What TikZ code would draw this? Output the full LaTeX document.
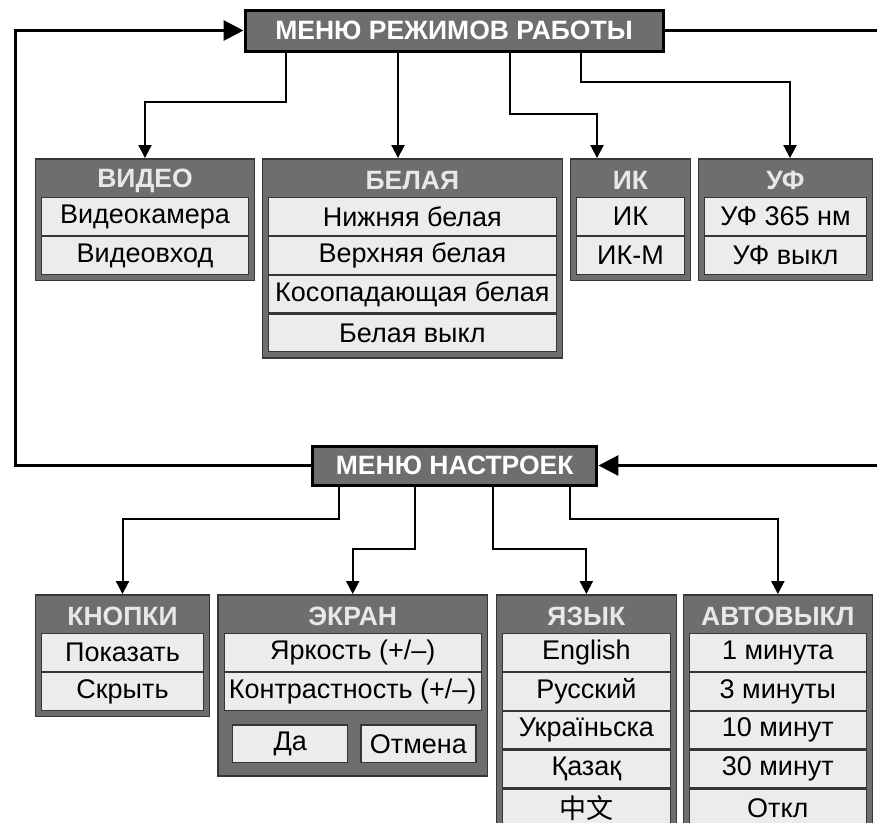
\documentclass[tikz,border=0pt]{standalone}
\usepackage{fontspec}
\setmainfont{Liberation Sans}
\newfontfamily\cjkfont{Noto Sans CJK SC}
\usetikzlibrary{arrows.meta,positioning,calc,backgrounds,fit}
\definecolor{panelgray}{HTML}{6E6E6E}
\definecolor{rowgray}{HTML}{ECECEC}
\definecolor{headtext}{HTML}{E8E8E8}
\definecolor{edgegray}{HTML}{363636}

\begin{document}
\begin{tikzpicture}[
  x=1pt, y=-1pt,
  every node/.style={font=\fontsize{27}{32}\selectfont},
  menubox/.style={rectangle, draw=black, line width=3pt, fill=panelgray, text=white,
    font=\fontsize{26.5}{30}\selectfont\bfseries, inner sep=0pt},
  panel/.style={rectangle, draw=edgegray, line width=1.5pt, fill=panelgray, inner sep=5.5pt},
  panelhead/.style={rectangle, text=headtext, font=\fontsize{26.5}{30}\selectfont\bfseries,
    minimum height=32.5pt, inner sep=0pt},
  entry/.style={rectangle, draw=edgegray, line width=1.2pt, fill=rowgray,
    minimum height=37.6pt, inner sep=0pt},
  link/.style={-{Triangle[length=13pt, width=13pt]}, line width=2pt},
  feed/.style={-{Triangle[length=20pt, width=20pt]}, line width=3pt},
]
\useasboundingbox (0,0) rectangle (877,822);
\clip (0,0) rectangle (877,822);

% Main menus
\node[menubox, minimum width=418pt, minimum height=41pt] (mode) at (454,30.5) {МЕНЮ РЕЖИМОВ РАБОТЫ};
\node[menubox, minimum width=284.5pt, minimum height=39pt] (setm) at (454.7,465.5) {МЕНЮ НАСТРОЕК};

% Mode panels
\begin{scope}[nodes={minimum width=207pt}]
\node[panelhead] (vidh) at (145,180.75) {ВИДЕО};
\node[entry, below=0pt of vidh] (vid1) {Видеокамера};
\node[entry, below=0pt of vid1] (vid2) {Видеовход};
\end{scope}
\begin{scope}[nodes={minimum width=287.7pt}]
\node[panelhead] (whth) at (412.35,180.75) {БЕЛАЯ};
\node[entry, below=0pt of whth] (wht1) {Нижняя белая};
\node[entry, below=0pt of wht1] (wht2) {Верхняя белая};
\node[entry, below=0pt of wht2] (wht3) {Косопадающая белая};
\node[entry, below=0pt of wht3] (wht4) {Белая выкл};
\end{scope}
\begin{scope}[nodes={minimum width=108pt}]
\node[panelhead] (irh) at (630.5,180.75) {ИК};
\node[entry, below=0pt of irh] (ir1) {ИК};
\node[entry, below=0pt of ir1] (ir2) {ИК-М};
\end{scope}
\begin{scope}[nodes={minimum width=162pt}]
\node[panelhead] (uvh) at (785.5,180.75) {УФ};
\node[entry, below=0pt of uvh] (uv1) {УФ 365 нм};
\node[entry, below=0pt of uv1] (uv2) {УФ выкл};
\end{scope}

% Settings panels
\begin{scope}[nodes={minimum width=162pt}]
\node[panelhead] (btnh) at (122.5,616.75) {КНОПКИ};
\node[entry, below=0pt of btnh] (btn1) {Показать};
\node[entry, below=0pt of btn1] (btn2) {Скрыть};
\end{scope}
\begin{scope}[nodes={minimum width=257pt}]
\node[panelhead] (scrh) at (352.7,616.75) {ЭКРАН};
\node[entry, below=0pt of scrh] (scr1) {Яркость (+/--)};
\node[entry, below=0pt of scr1] (scr2) {Контрастность (+/--)};
\end{scope}
\node[entry, minimum width=115pt, anchor=north west] (scryes)
  at ([xshift=8.5pt, yshift=-13.5pt]scr2.south west) {Да};
\node[entry, minimum width=115pt, right=12pt of scryes] (scrno) {Отмена};
\coordinate (scrbot) at ([yshift=-7.5pt]scryes.south);
\begin{scope}[nodes={minimum width=167.7pt}]
\node[panelhead] (langh) at (586.35,616.75) {ЯЗЫК};
\node[entry, below=0pt of langh] (lang1) {English};
\node[entry, below=0pt of lang1] (lang2) {Русский};
\node[entry, below=0pt of lang2] (lang3) {Україньска};
\node[entry, below=0pt of lang3] (lang4) {Қазақ};
\node[entry, below=0pt of lang4] (lang5) {\cjkfont 中文};
\end{scope}
\begin{scope}[nodes={minimum width=176.7pt}]
\node[panelhead] (autoh) at (777.85,616.75) {АВТОВЫКЛ};
\node[entry, below=0pt of autoh] (auto1) {1 минута};
\node[entry, below=0pt of auto1] (auto2) {3 минуты};
\node[entry, below=0pt of auto2] (auto3) {10 минут};
\node[entry, below=0pt of auto3] (auto4) {30 минут};
\node[entry, below=0pt of auto4] (auto5) {Откл};
\end{scope}

% Gray frames behind
\begin{scope}[on background layer]
\node[panel, fit=(vidh)(vid2)] (vidp) {};
\node[panel, fit=(whth)(wht4)] (whtp) {};
\node[panel, fit=(irh)(ir2)] (irp) {};
\node[panel, fit=(uvh)(uv2)] (uvp) {};
\node[panel, fit=(btnh)(btn2)] (btnp) {};
\node[panel, fit=(scrh)(scr2)(scryes)(scrno)(scrbot)] (scrp) {};
\node[panel, fit=(langh)(lang5)] (langp) {};
\node[panel, fit=(autoh)(auto5)] (autop) {};
\end{scope}

% Arrows
\draw[link] ([xshift=-168pt]mode.south) -- ++(0,49) -| (vidp.north);
\draw[link] ([xshift=-56pt]mode.south) -- ([xshift=-56pt]mode.south |- whtp.north);
\draw[link] ([xshift=56pt]mode.south) -- ++(0,61) -| ([xshift=-33.5pt]irp.north);
\draw[link] ([xshift=127pt]mode.south) -- ++(0,29) -| ([xshift=4.5pt]uvp.north);
\draw[link] ([xshift=-115.25pt]setm.south) -- ++(0,32) -| (btnp.north);
\draw[link] ([xshift=-39.25pt]setm.south) -- ++(0,62) -| (scrp.north);
\draw[link] ([xshift=38pt]setm.south) -- ++(0,62) -| (langp.north);
\draw[link] ([xshift=115.25pt]setm.south) -- ++(0,32) -| (autop.north);

% Loop between menus
\coordinate (lft) at (15.5,0);
\coordinate (rgt) at (890,0);
\draw[feed] (setm.west) -- (setm.west -| lft) |- (mode.west);
\draw[feed] (mode.east) -- (mode.east -| rgt) |- (setm.east);
\end{tikzpicture}
\end{document}
